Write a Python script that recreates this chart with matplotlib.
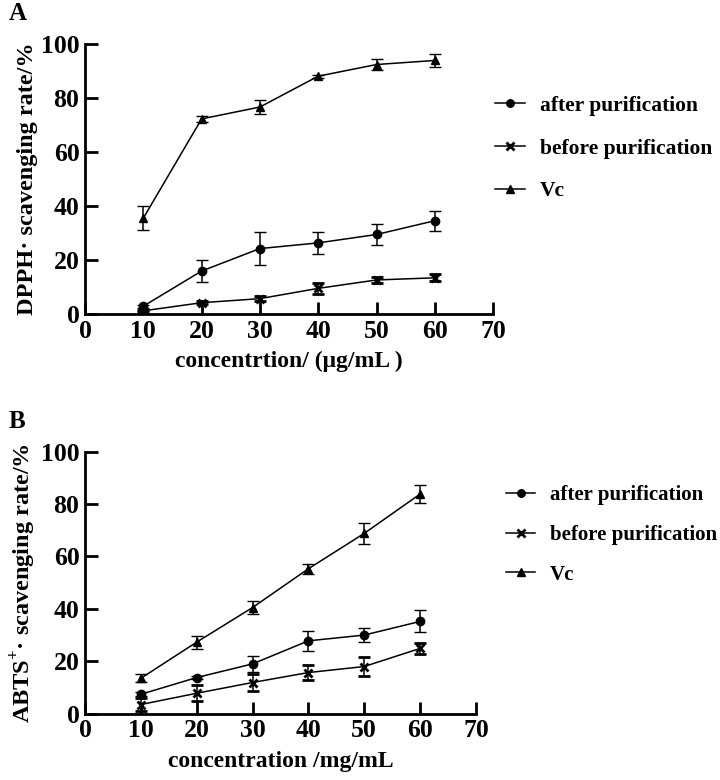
import matplotlib
matplotlib.use('Agg')
import matplotlib.pyplot as plt
import numpy as np

plt.rcParams['font.family'] = ['Liberation Serif', 'DejaVu Serif']
plt.rcParams['font.weight'] = 'bold'
plt.rcParams['mathtext.fontset'] = 'custom'
plt.rcParams['mathtext.rm'] = 'Liberation Serif:bold'
plt.rcParams['mathtext.bf'] = 'Liberation Serif:bold'

conc = [10, 20, 30, 40, 50, 60]
series_names = ['after purification', 'before purification', 'Vc']

# A: DPPH
dpph_after = [3.0, 16.0, 24.3, 26.4, 29.5, 34.6]
dpph_after_err = [0.6, 4.0, 6.0, 4.0, 4.0, 3.7]
dpph_before = [1.3, 4.3, 5.8, 9.6, 12.7, 13.5]
dpph_before_err = [0.4, 0.6, 0.8, 2.0, 1.2, 1.3]
dpph_vc = [35.5, 72.2, 76.6, 88.0, 92.3, 93.8]
dpph_vc_err = [4.4, 1.2, 2.5, 0.5, 2.2, 2.3]

# B: ABTS
abts_after = [7.4, 13.8, 19.0, 27.8, 30.0, 35.2]
abts_after_err = [0.8, 0.6, 3.0, 3.7, 2.8, 4.2]
abts_before = [3.5, 7.8, 11.9, 15.7, 18.0, 24.9]
abts_before_err = [2.5, 3.0, 3.4, 2.7, 3.6, 2.0]
abts_vc = [13.5, 27.3, 40.5, 55.3, 68.8, 83.8]
abts_vc_err = [1.5, 2.5, 2.5, 2.0, 4.0, 3.5]

markers = ['o', 'x', '^']


def draw_panel(ax, ys, errs, xlabel, ylabel):
    handles = []
    for y, e, m in zip(ys, errs, markers):
        h = ax.errorbar(conc, y, yerr=e, color='black', marker=m, markersize=6,
                        markeredgewidth=2 if m == 'x' else 1, linewidth=1.1,
                        elinewidth=1.1, capsize=4, capthick=1.1)
        handles.append(h[0])
    ax.set_xlim(0, 70)
    ax.set_ylim(0, 100)
    ax.set_xticks(np.arange(0, 71, 10))
    ax.set_yticks(np.arange(0, 101, 20))
    for s in ['top', 'right']:
        ax.spines[s].set_visible(False)
    for s in ['left', 'bottom']:
        ax.spines[s].set_linewidth(2)
    ax.tick_params(direction='in', length=9, width=2, labelsize=18.5, pad=4)
    ax.set_xlabel(xlabel, fontsize=17, fontweight='bold', labelpad=6)
    ax.set_ylabel(ylabel, fontsize=17.5, fontweight='bold', labelpad=2)
    return handles


fig = plt.figure(figsize=(7.2, 7.8), dpi=100)
axA = fig.add_axes([0.118, 0.597, 0.567, 0.347])
axB = fig.add_axes([0.118, 0.085, 0.543, 0.336])

hA = draw_panel(axA, [dpph_after, dpph_before, dpph_vc],
                [dpph_after_err, dpph_before_err, dpph_vc_err],
                'concentrtion/ (\u03bcg/mL )', 'DPPH\u00b7 scavenging rate/%')
hB = draw_panel(axB, [abts_after, abts_before, abts_vc],
                [abts_after_err, abts_before_err, abts_vc_err],
                'concentration /mg/mL', 'ABTS$^{+}$\u00b7 scavenging rate/%')

leg_kw = dict(loc='upper left', frameon=False, handlelength=1.4,
              handletextpad=0.7, borderpad=0, borderaxespad=0, markerscale=0.9)
fig.legend(hA, series_names, bbox_to_anchor=(0.6875, 0.877), fontsize=15.5,
           labelspacing=1.05, **leg_kw)
fig.legend(hB, series_names, bbox_to_anchor=(0.703, 0.378), fontsize=15,
           labelspacing=0.95, **leg_kw)

fig.text(0.012, 0.983, 'A', fontsize=18, fontweight='bold', va='center')
fig.text(0.012, 0.459, 'B', fontsize=18, fontweight='bold', va='center')

fig.savefig('out.png', dpi=100)
